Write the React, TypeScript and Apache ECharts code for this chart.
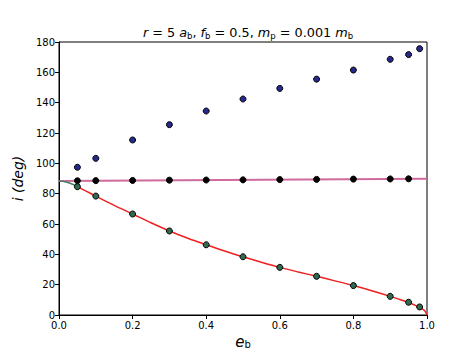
import React, { useEffect, useRef } from "react";
import * as echarts from "echarts";

const xTicks = [0, 0.2, 0.4, 0.6, 0.8, 1.0];
const yTicks = [0, 20, 40, 60, 80, 100, 120, 140, 160, 180];

const retroE = [0.05, 0.1, 0.2, 0.3, 0.4, 0.5, 0.6, 0.7, 0.8, 0.9, 0.95, 0.98];
const retroI = [97.4, 103.3, 115.4, 125.5, 134.5, 142.4, 149.4, 155.5, 161.5, 168.6, 171.7, 175.6];

const polarE = [0.05, 0.1, 0.2, 0.3, 0.4, 0.5, 0.6, 0.7, 0.8, 0.9, 0.95];
const polarI = [88.5, 88.6, 88.7, 88.9, 89.0, 89.1, 89.3, 89.4, 89.6, 89.7, 89.8];

const lowE = [0.05, 0.1, 0.2, 0.3, 0.4, 0.5, 0.6, 0.7, 0.8, 0.9, 0.95, 0.98];
const lowI = [84.6, 78.4, 66.6, 55.4, 46.3, 38.4, 31.4, 25.5, 19.4, 12.3, 8.4, 5.3];

const stationaryE = [0, 1.0];
const stationaryI = [88.3, 89.9];

const greenCurveE = [0, 0.01, 0.02, 0.03, 0.04, 0.05];
const greenCurveI = [88.3, 88.1, 87.6, 86.9, 85.9, 84.6];

const redCurveE = [0.05, 0.075, 0.1, 0.15, 0.2, 0.25, 0.3, 0.35, 0.4, 0.45, 0.5, 0.55, 0.6, 0.65, 0.7, 0.75, 0.8, 0.85, 0.9, 0.93, 0.95, 0.97, 0.98, 0.99, 0.995, 1.0];
const redCurveI = [84.6, 81.5, 78.4, 72.3, 66.6, 60.8, 55.4, 50.6, 46.3, 42.2, 38.4, 34.8, 31.4, 28.4, 25.5, 22.5, 19.4, 16.0, 12.3, 9.9, 8.2, 6.2, 5.0, 3.5, 2.4, 0];

const zip = (a: number[], b: number[]) => a.map((v, k) => [v, b[k]]);

export default function App() {
  const ref = useRef<HTMLDivElement>(null);
  useEffect(() => {
    if (!ref.current) return;
    const chart = echarts.init(ref.current, undefined, { renderer: "svg" });
    const font = "DejaVu Sans";
    const sub = { fontFamily: font, fontSize: 8.5, verticalAlign: "bottom" as const, padding: [6, 0, 0, 0], color: "#000" };
    chart.setOption({
      animation: false,
      backgroundColor: "#fff",
      title: {
        text: "{i|r} = 5 {i|a}{s|b}, {i|f}{s|b} = 0.5, {i|m}{s|p} = 0.001 {i|m}{s|b}",
        left: 243,
        textAlign: "center",
        top: 20,
        textStyle: {
          fontFamily: font,
          fontSize: 12.8,
          fontWeight: "normal",
          color: "#000",
          rich: {
            i: { fontFamily: font, fontSize: 12.8, fontStyle: "italic", color: "#000" },
            s: sub,
          },
        },
      },
      grid: {
        left: 59,
        right: 47,
        top: 42,
        bottom: 40,
        show: true,
        borderColor: "#000",
        borderWidth: 1,
        backgroundColor: "#fff",
        outerBoundsMode: "none",
        containLabel: false,
      },
      xAxis: {
        type: "value",
        min: 0,
        max: 1,
        interval: 0.2,
        name: "{i|e}{s|b}",
        nameLocation: "middle",
        nameGap: 19,
        nameTextStyle: {
          fontFamily: font,
          fontSize: 14,
          color: "#000",
          rich: {
            i: { fontFamily: font, fontSize: 15, fontStyle: "italic", color: "#000" },
            s: { fontFamily: font, fontSize: 10, color: "#000", verticalAlign: "bottom", padding: [5, 0, 0, 0] },
          },
        },
        axisLine: { lineStyle: { color: "#000", width: 1 } },
        axisTick: { inside: false, length: 4, lineStyle: { color: "#000" } },
        axisLabel: {
          fontFamily: font,
          fontSize: 10,
          color: "#000",
          margin: 5,
          formatter: (v: number) => (xTicks.includes(Math.round(v * 10) / 10) ? v.toFixed(1) : ""),
        },
        splitLine: { show: false },
      },
      yAxis: {
        type: "value",
        min: 0,
        max: 180,
        interval: 20,
        name: "i (deg)",
        nameLocation: "middle",
        nameGap: 34,
        nameRotate: 90,
        nameTextStyle: { fontFamily: font, fontSize: 14, fontStyle: "italic", color: "#000" },
        axisLine: { lineStyle: { color: "#000", width: 1 } },
        axisTick: { inside: false, length: 4, lineStyle: { color: "#000" } },
        axisLabel: {
          fontFamily: font,
          fontSize: 10,
          color: "#000",
          margin: 4,
          formatter: (v: number) => (yTicks.includes(v) ? String(v) : ""),
        },
        splitLine: { show: false },
      },
      series: [
        {
          type: "line",
          data: zip(stationaryE, stationaryI),
          showSymbol: false,
          lineStyle: { color: "#cf6a9c", width: 2 },
          z: 2,
        },
        {
          type: "line",
          data: zip(greenCurveE, greenCurveI),
          showSymbol: false,
          smooth: true,
          lineStyle: { color: "#3f8060", width: 1.5 },
          z: 2,
        },
        {
          type: "line",
          data: zip(redCurveE, redCurveI),
          showSymbol: false,
          smooth: 0.3,
          lineStyle: { color: "#f02020", width: 1.5 },
          z: 3,
        },
        {
          type: "scatter",
          data: zip(retroE, retroI),
          symbolSize: 6,
          itemStyle: { color: "#26288a", borderColor: "#000", borderWidth: 1, opacity: 1 },
          z: 5,
        },
        {
          type: "scatter",
          data: zip(polarE, polarI),
          symbolSize: 6,
          itemStyle: { color: "#000", borderColor: "#000", borderWidth: 1, opacity: 1 },
          z: 5,
        },
        {
          type: "scatter",
          data: zip(lowE, lowI),
          symbolSize: 6,
          itemStyle: { color: "#2f6a50", borderColor: "#000", borderWidth: 1, opacity: 1 },
          z: 5,
        },
      ],
    });
    return () => chart.dispose();
  }, []);
  return (
    <div
      ref={ref}
      style={{ position: "fixed", left: 0, top: 0, width: 474, height: 355, background: "#fff" }}
    />
  );
}
